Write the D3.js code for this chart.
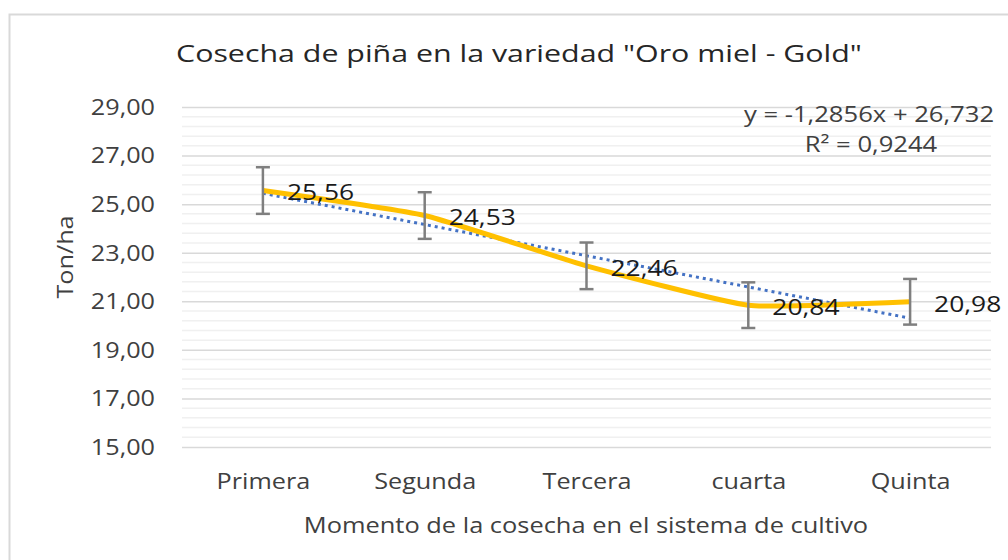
<!DOCTYPE html>
<html><head><meta charset="utf-8">
<script src="https://cdn.jsdelivr.net/npm/d3@7"></script>
<style>
html,body{margin:0;padding:0;background:#fff;}
svg{display:block;font-family:"Open Sans",sans-serif;}
</style></head>
<body>
<svg id="chart" width="1008" height="560"></svg>
<script>
// ---- data ----
const categories = ["Primera", "Segunda", "Tercera", "cuarta", "Quinta"];
const yieldValues = [25.56, 24.53, 22.46, 20.84, 20.98];
const errorValues = [0.96, 0.96, 0.96, 0.94, 0.94];
const trendSlope = -1.2856;
const trendIntercept = 26.732;
const trendR2 = 0.9244;
const yTickValues = [15, 17, 19, 21, 23, 25, 27, 29];
const titleText = 'Cosecha de piña en la variedad "Oro miel - Gold"';
const yTitle = "Ton/ha";
const xTitle = "Momento de la cosecha en el sistema de cultivo";

// ---- setup ----
const svg = d3.select("#chart");
const locale = d3.formatLocale({decimal: ",", thousands: ".", grouping: [3], currency: ["", ""], minus: "-"});
const f2 = locale.format(".2f");
const STRETCH = 1.2;
function stretch(sel, k) {
  sel.each(function () {
    const w = this.getComputedTextLength();
    d3.select(this).attr("textLength", w * (k || STRETCH)).attr("lengthAdjust", "spacingAndGlyphs");
  });
}

const x = d3.scalePoint().domain(categories).range([182, 991]).padding(0.5);
const y = d3.scaleLinear().domain([15, 29]).range([447, 107]);

// border
svg.append("path").attr("d", "M9.5,561 V14.5 H1010").attr("fill", "none").attr("stroke", "#d9d9d9").attr("stroke-width", 2);

// minor gridlines
const minor = d3.range(15, 29.001, 0.4).filter(v => Math.abs((v - 15) / 2 - Math.round((v - 15) / 2)) > 1e-6);
svg.append("g").selectAll("line").data(minor).join("line")
  .attr("x1", 182).attr("x2", 991)
  .attr("y1", d => y(d)).attr("y2", d => y(d))
  .attr("stroke", "#f0f0f0").attr("stroke-width", 1.5);

// y axis with major gridlines
const yAxis = svg.append("g").attr("transform", "translate(182,0)")
  .call(d3.axisLeft(y).tickValues(yTickValues).tickFormat(f2).tickSize(-809).tickPadding(27));
yAxis.select(".domain").remove();
yAxis.selectAll(".tick line").attr("stroke", "#d9d9d9").attr("stroke-width", 1.5);
yAxis.selectAll(".tick text").attr("font-size", 21).attr("fill", "#404040").attr("font-family", "Open Sans").attr("dy", "0.35em");
stretch(yAxis.selectAll(".tick text"));

// x axis
const xAxis = svg.append("g").attr("transform", "translate(0,447)")
  .call(d3.axisBottom(x).tickSize(0).tickPadding(27));
xAxis.select(".domain").remove();
xAxis.selectAll(".tick text").attr("font-size", 21).attr("fill", "#404040").attr("font-family", "Open Sans").attr("dy", "0.71em");
stretch(xAxis.selectAll(".tick text"));

// trend line (from the regression equation)
const trendPts = categories.map((c, i) => [x(c), y(trendSlope * (i + 1) + trendIntercept)]);
svg.append("path").datum([trendPts[0], trendPts[trendPts.length - 1]])
  .attr("d", d3.line())
  .attr("fill", "none").attr("stroke", "#4472c4").attr("stroke-width", 3)
  .attr("stroke-dasharray", "3 4");

// series line
const pts = categories.map((c, i) => ({c, v: yieldValues[i], e: errorValues[i]}));
svg.append("path").datum(pts)
  .attr("d", d3.line().x(d => x(d.c)).y(d => y(d.v)).curve(d3.curveCardinal.tension(0.55)))
  .attr("fill", "none").attr("stroke", "#ffc000").attr("stroke-width", 5).attr("stroke-linejoin", "round");

// error bars
const eb = svg.append("g").attr("stroke", "#7f7f7f").attr("stroke-width", 2.5);
eb.selectAll(".v").data(pts).join("line")
  .attr("x1", d => x(d.c)).attr("x2", d => x(d.c))
  .attr("y1", d => y(d.v + d.e)).attr("y2", d => y(d.v - d.e));
eb.selectAll(".t").data(pts).join("line")
  .attr("x1", d => x(d.c) - 7).attr("x2", d => x(d.c) + 7)
  .attr("y1", d => y(d.v + d.e)).attr("y2", d => y(d.v + d.e));
eb.selectAll(".b").data(pts).join("line")
  .attr("x1", d => x(d.c) - 7).attr("x2", d => x(d.c) + 7)
  .attr("y1", d => y(d.v - d.e)).attr("y2", d => y(d.v - d.e));

// data labels
const dl = svg.append("g").selectAll("text").data(pts).join("text")
  .attr("x", d => x(d.c) + 24).attr("y", d => y(d.v)).attr("dy", "0.45em")
  .attr("font-size", 22).attr("fill", "#1a1a1a").text(d => f2(d.v));
stretch(dl);

// equation
const eqG = svg.append("g").attr("font-size", 21).attr("fill", "#404040").attr("text-anchor", "middle");
eqG.append("text").attr("x", 869).attr("y", 122)
  .text("y = " + locale.format(".4f")(trendSlope) + "x + " + locale.format(".3f")(trendIntercept));
eqG.append("text").attr("x", 871).attr("y", 152).text("R² = " + locale.format(".4f")(trendR2));
stretch(eqG.selectAll("text"), 1.22);

// title
const t = svg.append("text").attr("x", 519).attr("y", 62).attr("text-anchor", "middle")
  .attr("font-size", 23).attr("fill", "#262626").text(titleText);
stretch(t, 1.32);

// axis titles
const yt = svg.append("text").attr("transform", "translate(73,257) rotate(-90)").attr("text-anchor", "middle")
  .attr("font-size", 21).attr("fill", "#404040").text(yTitle);
stretch(yt);
const xt = svg.append("text").attr("x", 586).attr("y", 533).attr("text-anchor", "middle")
  .attr("font-size", 21).attr("fill", "#404040").text(xTitle);
stretch(xt, 1.21);
</script>
</body></html>
